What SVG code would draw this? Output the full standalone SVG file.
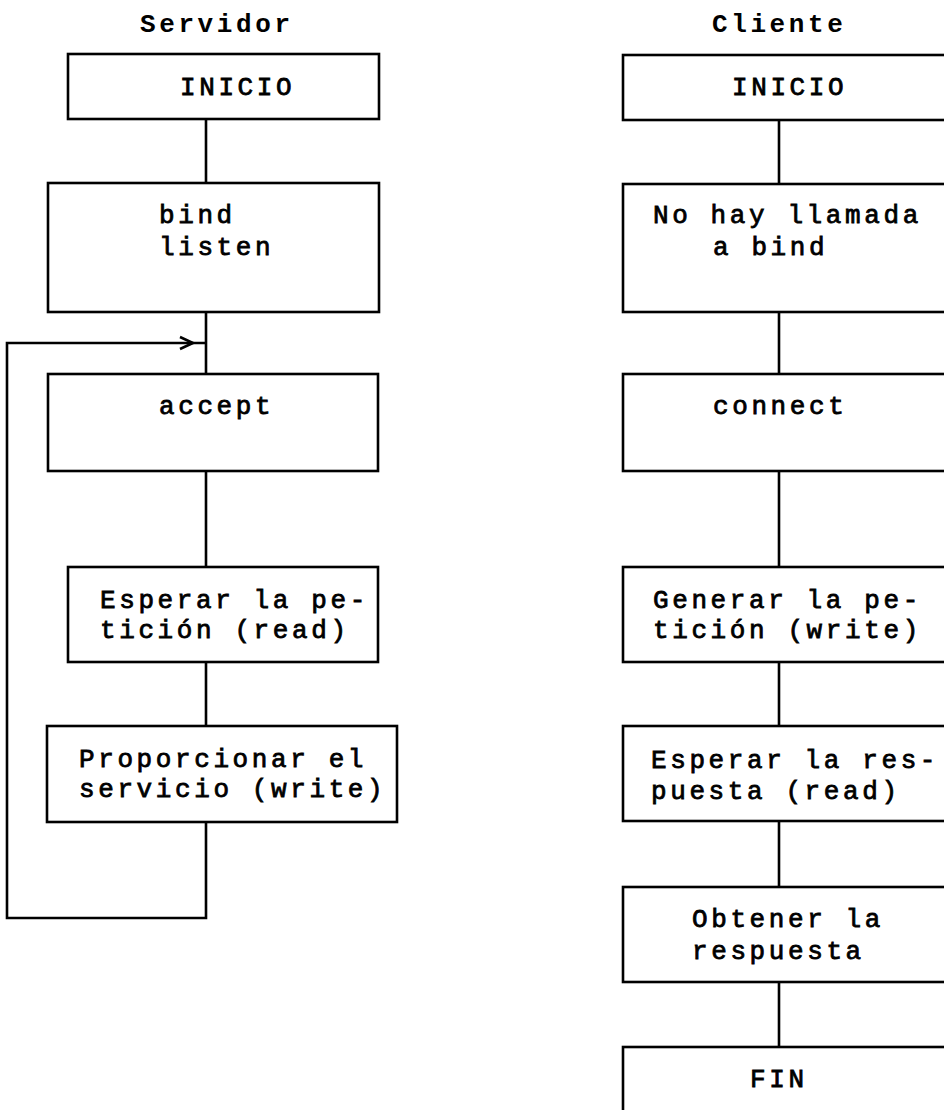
<svg xmlns="http://www.w3.org/2000/svg" width="944" height="1110" viewBox="0 0 944 1110">
<style>
.box{fill:none;stroke:#000;stroke-width:2.6}
.ln{fill:none;stroke:#000;stroke-width:2.6}
text{font-family:"Liberation Mono","Courier New",monospace;font-size:26px;letter-spacing:3.6px;font-weight:bold;fill:#000}
.t{font-weight:normal;stroke:#000;stroke-width:0.8}
</style>
<rect width="944" height="1110" fill="#fff"/>
<g id="titles">
<text x="140" y="32">Servidor</text>
<text x="712" y="32">Cliente</text>
</g>
<g id="connectors">
<path class="ln" d="M206 119V183M206 312V374M206 471V567M206 662V726M206 822V918H7V343H206"/>
<polyline class="ln" points="180,337 193,343 180,349"/>
<path class="ln" d="M779 120V184M779 312V374M779 471V567M779 662V726M779 821V887M779 982V1047"/>
</g>
<g id="s-inicio"><rect class="box" x="68" y="54" width="311" height="65"/><text class="t" x="180" y="95">INICIO</text></g>
<g id="s-bind"><rect class="box" x="48" y="183" width="331" height="129"/><text class="t" x="159" y="223">bind</text><text class="t" x="159" y="255">listen</text></g>
<g id="s-accept"><rect class="box" x="48" y="374" width="330" height="97"/><text class="t" x="159" y="414">accept</text></g>
<g id="s-esperar"><rect class="box" x="68" y="567" width="310" height="95"/><text class="t" x="100" y="608">Esperar la pe-</text><text class="t" x="100" y="638">tición (read)</text></g>
<g id="s-proporcionar"><rect class="box" x="47" y="726" width="350" height="96"/><text class="t" x="79" y="767">Proporcionar el</text><text class="t" x="79" y="797">servicio (write)</text></g>
<g id="c-inicio"><rect class="box" x="623" y="55" width="330" height="65"/><text class="t" x="732" y="95">INICIO</text></g>
<g id="c-nobind"><rect class="box" x="623" y="184" width="330" height="128"/><text class="t" x="653" y="223">No hay llamada</text><text class="t" x="713" y="255">a bind</text></g>
<g id="c-connect"><rect class="box" x="623" y="374" width="330" height="97"/><text class="t" x="713" y="414">connect</text></g>
<g id="c-generar"><rect class="box" x="623" y="567" width="330" height="95"/><text class="t" x="653" y="608">Generar la pe-</text><text class="t" x="653" y="638">tición (write)</text></g>
<g id="c-esperar"><rect class="box" x="623" y="726" width="330" height="95"/><text class="t" x="651" y="768">Esperar la res-</text><text class="t" x="651" y="799">puesta (read)</text></g>
<g id="c-obtener"><rect class="box" x="623" y="887" width="330" height="95"/><text class="t" x="692" y="927">Obtener la</text><text class="t" x="692" y="959">respuesta</text></g>
<g id="c-fin"><rect class="box" x="623" y="1047" width="330" height="80"/><text class="t" x="750" y="1087">FIN</text></g>
</svg>
